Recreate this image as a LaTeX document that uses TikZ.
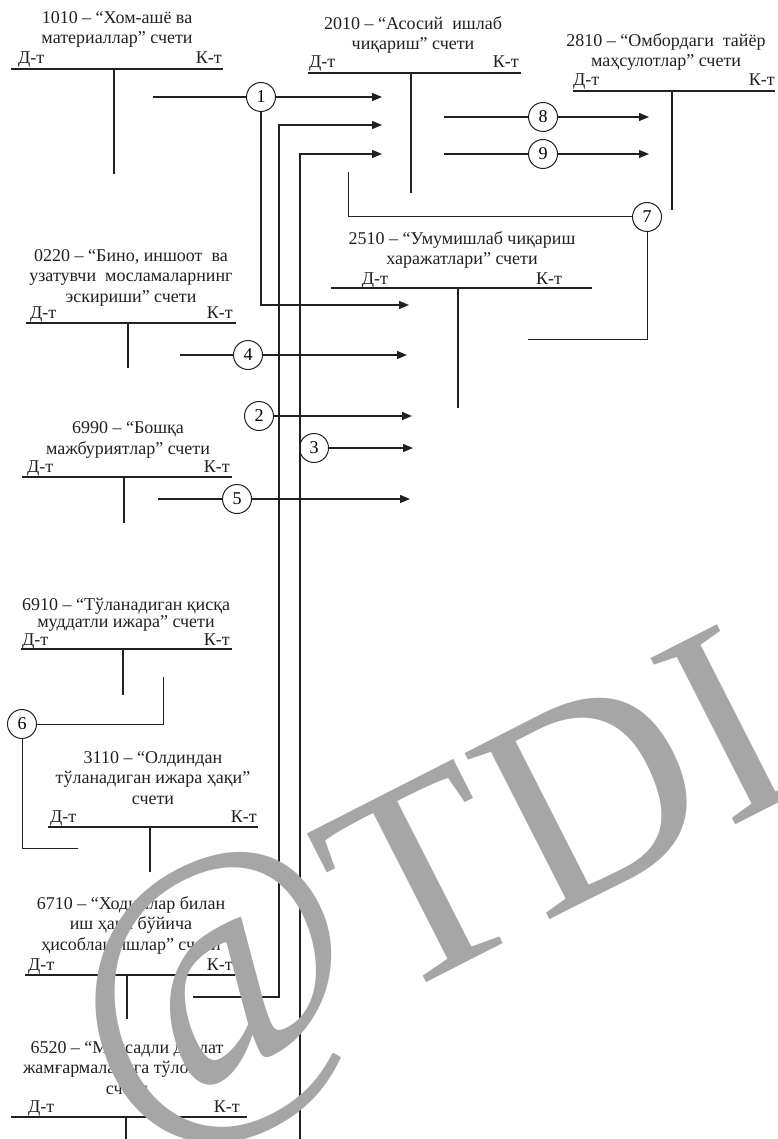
\documentclass[tikz,border=0pt]{standalone}
\usepackage{fontspec}
\setmainfont{Liberation Serif}
\usetikzlibrary{arrows.meta}
\definecolor{wmgray}{HTML}{A6A6A6}
\definecolor{ink}{HTML}{231F20}

\tikzset{
  num/.style={circle, draw=ink, line width=1pt, inner sep=0pt, minimum size=29pt,
    font=\fontsize{18}{20}\selectfont},
  ttl/.style={align=center, inner sep=0pt, text=ink, font=\fontsize{18}{20.5}\selectfont},
  side/.style={inner sep=0pt, text=ink, font=\fontsize{18}{20}\selectfont},
  bar/.style={draw=ink, line width=2.3pt},
  flow/.style={draw=ink, line width=1.3pt, -{Triangle[length=10pt, width=8pt]}},
  link/.style={draw=ink, line width=1.3pt},
  thinlink/.style={draw=ink, line width=1pt},
  wm/.style={inner sep=0pt, text=wmgray, font=\fontsize{285}{285}\selectfont},
}

\begin{document}
\begin{tikzpicture}[x=1pt, y=-1pt]
    \useasboundingbox (0,0) rectangle (778,1139);
    \clip (0,0) rectangle (778,1139);

    % T-accounts
    \draw[bar] (11,69) -- (223,69) (114,69) -- (114,174);
    \node[ttl, anchor=base] (t1010) at (117,44) {1010 – “Хом-ашё ва\\материаллар” счети};
    \node[side, anchor=base west] (d1010) at (18,64) {Д-т};
    \node[side, anchor=base east] (k1010) at (222,64) {К-т};

    \draw[bar] (308,73) -- (521,73) (411,73) -- (411,193);
    \node[ttl, anchor=base] (t2010) at (413,50) {2010 – “Асосий~ ишлаб\\чиқариш” счети};
    \node[side, anchor=base west] (d2010) at (309,68) {Д-т};
    \node[side, anchor=base east] (k2010) at (519,68) {К-т};

    \draw[bar] (573,91) -- (775,91) (672,91) -- (672,210);
    \node[ttl, anchor=base] (t2810) at (666,67) {2810 – “Омбордаги~ тайёр\\маҳсулотлар” счети};
    \node[side, anchor=base west] (d2810) at (573,86) {Д-т};
    \node[side, anchor=base east] (k2810) at (775,86) {К-т};

    \draw[bar] (331,288) -- (592,288) (458,288) -- (458,408);
    \node[ttl, anchor=base] (t2510) at (462,265) {2510 – “Умумишлаб чиқариш\\харажатлари” счети};
    \node[side, anchor=base] (d2510) at (375,284) {Д-т};
    \node[side, anchor=base] (k2510) at (549,284) {К-т};

    \draw[bar] (26,323) -- (236,323) (128,323) -- (128,368);
    \node[ttl, anchor=base] (t0220) at (131,302) {0220 – “Бино, иншоот~ ва\\узатувчи~ мосламаларнинг\\эскириши” счети};
    \node[side, anchor=base west] (d0220) at (30,318) {Д-т};
    \node[side, anchor=base east] (k0220) at (233,318) {К-т};

    \draw[bar] (22,477) -- (232,477) (124,477) -- (124,523);
    \node[ttl, anchor=base] (t6990) at (128,454) {6990 – “Бошқа\\мажбуриятлар” счети};
    \node[side, anchor=base west] (d6990) at (27,472) {Д-т};
    \node[side, anchor=base east] (k6990) at (230,472) {К-т};

    \draw[bar] (21,649) -- (232,649) (123,649) -- (123,695);
    \node[ttl, anchor=base] (t6910) at (126,627) {6910 – “Тўланадиган қисқа\\[-4pt]муддатли ижара” счети};
    \node[side, anchor=base west] (d6910) at (22,645) {Д-т};
    \node[side, anchor=base east] (k6910) at (230,645) {К-т};

    \draw[bar] (48,827) -- (258,827) (150,827) -- (150,872);
    \node[ttl, anchor=base] (t3110) at (153,804) {3110 – “Олдиндан\\тўланадиган ижара ҳақи”\\счети};
    \node[side, anchor=base west] (d3110) at (50,822) {Д-т};
    \node[side, anchor=base east] (k3110) at (257,822) {К-т};

    \draw[bar] (25,975) -- (235,975) (127,975) -- (127,1019);
    \node[ttl, anchor=base] (t6710) at (131,950) {6710 – “Ходимлар билан\\иш ҳақи бўйича\\ҳисоблашишлар” счети};
    \node[side, anchor=base west] (d6710) at (28,970) {Д-т};
    \node[side, anchor=base east] (k6710) at (233,970) {К-т};

    \draw[bar] (11,1117) -- (247,1117) (126,1117) -- (126,1139);
    \node[ttl, anchor=base] (t6520) at (127,1094) {6520 – “Мақсадли давлат\\жамғармаларига тўловлар”\\счети};
    \node[side, anchor=base west] (d6520) at (28,1112) {Д-т};
    \node[side, anchor=base east] (k6520) at (240,1112) {К-т};

    % numbered entries
    \node[num] (c1) at (261,97) {1};
    \node[num] (c2) at (259,416) {2};
    \node[num] (c3) at (314,448) {3};
    \node[num] (c4) at (248,355) {4};
    \node[num] (c5) at (237,499) {5};
    \node[num] (c6) at (22,724) {6};
    \node[num] (c7) at (647,217) {7};
    \node[num] (c8) at (543,117) {8};
    \node[num] (c9) at (543,154) {9};

    \coordinate (s1) at (153,97);
    \coordinate (e1a) at (382,97);
    \coordinate (e1b) at (409,305);
    \draw[link] (s1) -- (c1);
    \draw[flow] (c1) -- (e1a);
    \draw[flow] (c1.south) |- (e1b);

    \coordinate (s2) at (193,997);
    \coordinate (k2) at (279,997);
    \coordinate (e2a) at (382,125);
    \coordinate (e2b) at (412,416);
    \draw[flow] (s2) -- (k2) |- (e2a);
    \draw[flow] (c2) -- (e2b);

    \coordinate (s3) at (300,1139);
    \coordinate (e3a) at (382,154);
    \coordinate (e3b) at (413,448);
    \draw[flow] (s3) |- (e3a);
    \draw[flow] (c3) -- (e3b);

    \coordinate (s4) at (180,355);
    \coordinate (e4) at (407,355);
    \draw[link] (s4) -- (c4);
    \draw[flow] (c4) -- (e4);

    \coordinate (s5) at (158,499);
    \coordinate (e5) at (410,499);
    \draw[link] (s5) -- (c5);
    \draw[flow] (c5) -- (e5);

    \coordinate (s6) at (163,677);
    \coordinate (e6) at (78,848);
    \draw[thinlink] (s6) |- (c6);
    \draw[thinlink] (c6) |- (e6);

    \coordinate (s7) at (528,339);
    \coordinate (e7) at (348,172);
    \draw[thinlink] (s7) -| (c7);
    \draw[thinlink] (c7) -| (e7);

    \coordinate (s8) at (444,117);
    \coordinate (e8) at (649,117);
    \draw[link] (s8) -- (c8);
    \draw[flow] (c8) -- (e8);

    \coordinate (s9) at (444,154);
    \coordinate (e9) at (649,154);
    \draw[link] (s9) -- (c9);
    \draw[flow] (c9) -- (e9);

    % watermark
    \node[wm, rotate=27, anchor=base west] (wmark) at (125,1136) {{\fontsize{320}{320}\selectfont @}TDI};
\end{tikzpicture}
\end{document}
